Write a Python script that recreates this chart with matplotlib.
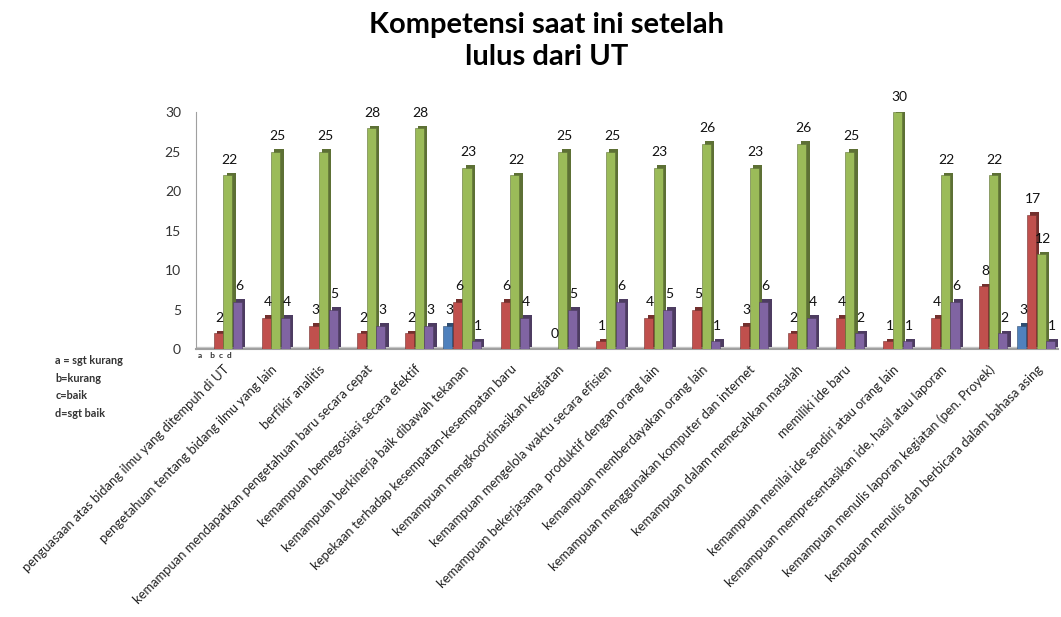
import numpy as np
import matplotlib.pyplot as plt
import matplotlib.patheffects as pe
import matplotlib.colors as mcolors

# data
categories = [
    "penguasaan atas bidang ilmu yang ditempuh di UT",
    "pengetahuan tentang bidang ilmu yang lain",
    "berfikir analitis",
    "kemampuan mendapatkan pengetahuan baru secara cepat",
    "kemampuan bemegosiasi secara efektif",
    "kemampuan berkinerja baik dibawah tekanan",
    "kepekaan terhadap kesempatan-kesempatan baru",
    "kemampuan mengkoordinasikan kegiatan",
    "kemampuan mengelola waktu secara efisien",
    "kemampuan bekerjasama  produktif dengan orang lain",
    "kemampuan memberdayakan orang lain",
    "kemampuan menggunakan komputer dan internet",
    "kemampuan dalam memecahkan masalah",
    "memiliki ide baru",
    "kemampuan menilai ide sendiri atau orang lain",
    "kemampuan mempresentasikan ide, hasil atau laporan",
    "kemampuan menulis laporan kegiatan (pen. Proyek)",
    "kemapuan menulis dan berbicara dalam bahasa asing",
]
a_sgt_kurang = [0, 0, 0, 0, 0, 3, 0, 0, 0, 0, 0, 0, 0, 0, 0, 0, 0, 3]
b_kurang = [2, 4, 3, 2, 2, 6, 6, 0, 1, 4, 5, 3, 2, 4, 1, 4, 8, 17]
c_baik = [22, 25, 25, 28, 28, 23, 22, 25, 25, 23, 26, 23, 26, 25, 30, 22, 22, 12]
d_sgt_baik = [6, 4, 5, 3, 3, 1, 4, 5, 6, 5, 1, 6, 4, 2, 1, 6, 2, 1]

series = [
    (a_sgt_kurang, "#4f81bd", False),
    (b_kurang, "#c0504d", True),
    (c_baik, "#9bbb59", True),
    (d_sgt_baik, "#8064a2", True),
]

plt.rcParams["font.family"] = ["Lato", "DejaVu Sans"]

fig = plt.figure(figsize=(10.61, 6.17), dpi=100)
ax = fig.add_axes([0.185, 0.434, 0.812, 0.384])

x = np.arange(len(categories))
w = 0.2
for i, (vals, col, label_zero) in enumerate(series):
    dark = tuple(np.array(mcolors.to_rgb(col)) * 0.6)
    pos = x + (i - 1.5) * w
    bars = ax.bar(pos, vals, width=w * 0.95, color=col, zorder=3,
                  edgecolor=dark, linewidth=0.4)
    for b in bars:
        b.set_path_effects([
            pe.SimplePatchShadow(offset=(2.4, 1.8), shadow_rgbFace=dark, alpha=1),
            pe.Normal(),
        ])
    for p, v in zip(pos, vals):
        if v == 0 and not label_zero:
            continue
        ax.text(p + 0.03, v + 1.2, str(v), ha="center", va="bottom",
                fontsize=10, color="#111111", zorder=5)

ax.set_xlim(-0.56, 17.45)
ax.set_ylim(0, 30)
ax.set_yticks([0, 5, 10, 15, 20, 25, 30])
ax.tick_params(axis="y", length=0, pad=11, labelsize=10, labelcolor="#333333")
ax.tick_params(axis="x", length=0, pad=10)
ax.set_xticks(x)
ax.set_xticklabels(categories, rotation=45, ha="right", rotation_mode="anchor",
                   fontsize=9.4, color="#222222")
for s in ["top", "right"]:
    ax.spines[s].set_visible(False)
ax.spines["left"].set_color("#a0a0a0")
ax.spines["bottom"].set_color("#a0a0a0")
ax.spines["bottom"].set_linewidth(1.5)
ax.axhline(0.25, color="#c8c8c8", lw=1, zorder=2)

fig.text(0.515, 0.98, "Kompetensi saat ini setelah\nlulus dari UT", ha="center",
         va="top", fontsize=21, fontweight="bold", linespacing=1.25)

fig.text(0.052, 0.425, "a = sgt kurang\nb=kurang\nc=baik\nd=sgt baik",
         ha="left", va="top", fontsize=7.8, fontweight="bold",
         color="#333333", linespacing=1.75)
fig.text(0.187, 0.43, "a    b  c  d", ha="left", va="top", fontsize=6,
         fontweight="bold", color="#333333")

fig.savefig("out.png", dpi=100)
